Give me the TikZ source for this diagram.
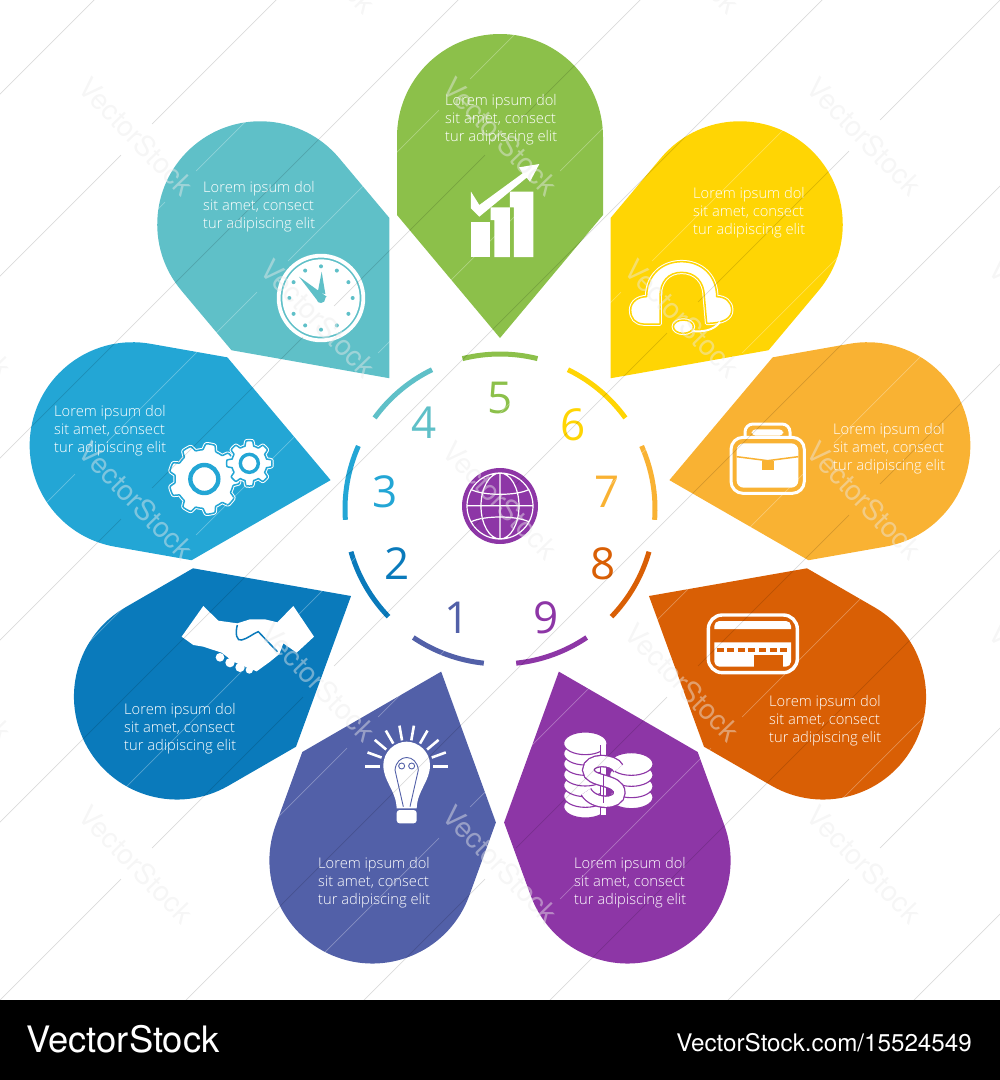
\documentclass[tikz,border=0pt]{standalone}
\usepackage{fontspec}
\setmainfont{Open Sans}
\newfontfamily\lightfont{Open Sans Light}
\newfontfamily\brandfont{TeX Gyre Heros}
\usetikzlibrary{positioning}

\definecolor{petalgreen}{HTML}{8CC04A}
\definecolor{petalyellow}{HTML}{FFD504}
\definecolor{petalorange}{HTML}{F9B233}
\definecolor{petalrust}{HTML}{D95F05}
\definecolor{petalpurple}{HTML}{8D36A6}
\definecolor{petalindigo}{HTML}{5260A8}
\definecolor{petalnavy}{HTML}{0A7ABB}
\definecolor{petalblue}{HTML}{23A6D5}
\definecolor{petalteal}{HTML}{5FC0C8}

\tikzset{
  blurb/.style={text=white,anchor=west,align=left,inner sep=0pt,font=\lightfont\fontsize{14.7}{18}\selectfont},
  numeral/.style={inner sep=0pt,font=\fontsize{44}{44}\selectfont},
  ringarc/.style={line width=5pt},
  halo/.style={fill=white,draw=white,line width=1pt,double=#1,double distance=1.5pt,line join=round},
  zoomed/.style 2 args={shift={(#1,#2)},scale=1/3},
  hairline/.style={line width=0.7pt},
  wmark/.style={text=black!8,text opacity=0.45,rotate=-46,inner sep=0pt,font=\brandfont\fontsize{28.3}{30}\selectfont},
}

% cx, cy, root radius, tip radius, teeth
\newcommand{\gearshape}[5]{plot[domain=0:358,samples=180,variable=\t]
  ({#1+(#3+(#4-#3)*max(0,min(1,0.5+1.3*cos(#5*\t))))*cos(\t)},
   {#2+(#3+(#4-#3)*max(0,min(1,0.5+1.3*cos(#5*\t))))*sin(\t)}) -- cycle}

\begin{document}
\begin{tikzpicture}[x=1pt,y=-1pt]
\useasboundingbox (0,0) rectangle (1000,1080);

% petals, ring pieces, numbers and texts
\foreach \ang/\col/\num/\nx/\ny/\bx/\by in {
  0/petalgreen/5/500/398/445/119.5,
  40/petalyellow/6/573/425/693/212.5,
  80/petalorange/7/607/492/833/448.5,
  120/petalrust/8/603/564/769/720.5,
  160/petalpurple/9/546/618/574/882.5,
  200/petalindigo/1/457/618/318/882.5,
  240/petalnavy/2/397/564/124/728.5,
  280/petalblue/3/385/492/54/430.5,
  320/petalteal/4/424/423/203/206.5} {
  \fill[\col,rotate around={-\ang:(500,510)}] (500,338) -- (397,215) -- (397,137)
    .. controls (397,80.1) and (443.1,34) .. (500,34)
    .. controls (556.9,34) and (603,80.1) .. (603,137) -- (603,215) -- cycle;
  \draw[\col,ringarc,rotate around={-\ang:(500,509)}] ([shift={(500,509)}]-104:155)
    arc[start angle=-104,end angle=-76,radius=155];
  \node[numeral,text=\col] (num-\num) at (\nx,\ny) {\num};
  \node[blurb] (blurb-\num) at (\bx,\by) {Lorem ipsum dol\\sit amet, consect\\tur adipiscing elit};
}

% globe
\begin{scope}[zoomed={340}{340}]
\fill[petalpurple] (480,498) circle (114);
\draw[white,line width=1.2pt] (480,498) circle (99) (480,399) -- (480,597) (381,497) -- (579,497)
  (480,498) ellipse [x radius=57,y radius=99]
  (392,448) .. controls (430,468) and (530,468) .. (568,448)
  (392,546) .. controls (430,526) and (530,526) .. (568,546);
\end{scope}

% chart
\begin{scope}[zoomed={150}{110}]
\fill[white] (963,335) rectangle (1020,441);
\fill[white] (1022,330) -- (1022,292) -- (1080,292) -- (1080,441) -- (1033,441) -- (1033,330) -- cycle;
\fill[white] (1080,292) -- (1080,245) -- (1150,245) -- (1150,441) -- (1092,441) -- (1092,292) -- cycle;
\fill[white] (963,245) -- (988,285) -- (1118,190) -- (1107,172) -- (1168,162) -- (1140,215) -- (1130,203) -- (988,320) -- (963,295) -- cycle;
\end{scope}

% clock
\begin{scope}[zoomed={150}{110}]
\draw[white,line width=3.8pt] (513,564) circle (127);
\fill[white] (513,564) circle (116);
\foreach \a in {0,30,...,330} \fill[petalteal] ([shift={(513,564)}]\a:95) circle (6);
\fill[petalteal] (447,500) -- (530,560) -- (507,578) -- cycle;
\fill[petalteal] (515,485) -- (503,548) -- (526,552) -- cycle;
\fill[petalteal] (513,566) circle (13);
\end{scope}

% headset
\begin{scope}[zoomed={625}{255}]
\path[halo=petalyellow] (105,207) -- (55,207) .. controls (30,205) and (17,190) .. (17,165)
  .. controls (17,140) and (40,125) .. (65,125)
  .. controls (65,60) and (112,20) .. (170,20) .. controls (228,20) and (275,60) .. (275,125)
  .. controls (300,125) and (320,140) .. (320,165) .. controls (320,190) and (295,205) .. (245,205)
  -- (238,125) .. controls (238,80) and (210,52) .. (170,52) .. controls (130,52) and (105,80) .. (105,125) -- cycle;
\draw[white,line width=2pt] (285,200) .. controls (270,225) and (230,235) .. (190,226);
\path[halo=petalyellow] (175,215) ellipse [x radius=30,y radius=20];
\end{scope}

% briefcase
\begin{scope}[zoomed={720}{415}]
\draw[white,line width=3pt,rounded corners=12pt] (33,67) rectangle (253,235);
\draw[white,line width=3pt,rounded corners=8pt] (75,67) -- (75,27) -- (210,27) -- (210,67);
\fill[white,rounded corners=4pt] (95,43) rectangle (190,62);
\fill[white,rounded corners=7pt] (50,85) rectangle (235,218);
\draw[petalorange,line width=1.5pt] (50,125) -- (143,137) -- (235,125);
\fill[petalorange] (125,137) rectangle (163,165);
\end{scope}

% card
\begin{scope}[zoomed={600}{240}]
\draw[white,line width=3.4pt,rounded corners=14pt] (325,1125) rectangle (592,1298);
\fill[white] (343,1167) [rounded corners=5pt] -- (343,1143) -- (573,1143) [sharp corners] -- (573,1167) -- cycle;
\fill[white] (343,1207) -- (573,1207) [rounded corners=5pt] -- (573,1280) -- (343,1280) [sharp corners] -- cycle;
\fill[petalrust] (463,1245) rectangle (550,1280);
\draw[petalrust,line width=4pt,dash pattern=on 7pt off 3.6pt] (350,1231) -- (570,1231);
\end{scope}

% coins
\begin{scope}[zoomed={350}{710}]
\foreach \y in {290,258,226,194,162,131,100}
  \path[fill=white,draw=petalpurple,line width=1.1pt] (706,\y) ellipse [x radius=65,y radius=34];
\foreach \y in {262,229,195,162}
  \path[fill=white,draw=petalpurple,line width=1.1pt] (844,\y) ellipse [x radius=65,y radius=34];
\draw[petalpurple,line width=1.2pt,double=white,double distance=5pt] (760,105) -- (760,315);
\draw[petalpurple,line width=1.3pt,double=white,double distance=10pt] (805,175) .. controls (790,145) and (715,145) .. (715,180)
  .. controls (715,218) and (808,205) .. (808,248) .. controls (808,285) and (730,285) .. (708,245);
\draw[petalpurple,line width=1pt] (760,195) -- (760,280);
\end{scope}

% bulb
\begin{scope}[zoomed={350}{710}]
\fill[white] (140,295) .. controls (138,240) and (100,215) .. (100,165) .. controls (100,125) and (135,95) .. (170,95)
  .. controls (205,95) and (240,125) .. (240,165) .. controls (240,215) and (202,240) .. (200,295) -- cycle;
\fill[white,rounded corners=3pt] (140,300) rectangle (200,340);
\foreach \a in {-180,-160,...,0}
  \draw[white,line width=2.6pt] ([shift={(170,170)}]\a:80) -- ([shift={(170,170)}]\a:125);
\draw[petalindigo,line width=0.9pt] (155,168) circle (9) (185,168) circle (9)
  (135,180) .. controls (140,130) and (200,130) .. (205,180) (135,180) -- (160,290) (205,180) -- (180,290);
\end{scope}

% handshake
\begin{scope}[zoomed={150}{430}]
\fill[white] (95,620) -- (160,528) -- (205,572) -- (262,580) -- (300,568) -- (345,568) -- (382,577) -- (430,528)
  -- (492,620) -- (440,668) -- (400,640) -- (388,672) -- (360,695) -- (320,724) -- (290,712) -- (250,695)
  -- (215,668) -- (160,650) -- (130,645) -- cycle;
\fill[white] (210,682) circle (13) (240,698) circle (14) (270,712) circle (14) (298,720) circle (11);
\draw[petalnavy,line width=1.5pt] (262,585) .. controls (255,610) and (260,635) .. (275,630)
  .. controls (295,625) and (310,610) .. (325,605) -- (382,665);
\end{scope}

% gears
\begin{scope}[zoomed={165}{435}]
\path[halo=petalblue] \gearshape{118}{132}{88}{106}{9};
\draw[petalblue,line width=4.4pt] (118,132) circle (42);
\path[halo=petalblue] \gearshape{253}{85}{53}{68}{8};
\draw[petalblue,line width=3.4pt] (253,85) circle (27);
\end{scope}

% watermark lines and text
\begin{scope}
\clip (0,0) rectangle (1000,1000);
\foreach \s in {94,458,822,1186,1550,1914}
  \draw[black,opacity=0.14,hairline] (-30,\s+30) -- (1030,\s-1030);
\foreach \s in {276,640,1000,1364,1728}
  \draw[black,opacity=0.14,hairline,dash pattern=on 213.4pt off 44pt] (-30,\s+30) -- (1030,\s-1030);
\foreach \s/\xo in {185/-76,367/-168,549/-76,731/-168,913/-76,1095/-168,1277/-76,1459/-168,1641/-76,1823/-168}
  \draw[white,opacity=0.3,hairline,dash pattern=on 213.4pt off 44pt] (\xo,\s-\xo) -- (1060,\s-1060);
\foreach \wx in {136,500,864} \foreach \wy in {136,500,864}
  \node[wmark] (wm-\wx-\wy) at (\wx,\wy) {VectorStock};
\foreach \wx/\wy in {318/-46,682/-46,-46/318,318/318,682/318,1046/318,-46/682,318/682,682/682,1046/682}
  \node[wmark] (wm-\wx-\wy) at (\wx,\wy) {VectorStock};
\end{scope}

% footer
\fill[black] (0,1000) rectangle (1000,1080);
\node[text=white,anchor=west,inner sep=0pt,font=\brandfont\fontsize{36.4}{37}\selectfont] (brand) at (26,1039) {VectorStock};
\node[text=white,anchor=east,inner sep=0pt,font=\brandfont\fontsize{24.2}{25}\selectfont] (brandurl) at (972,1043) {VectorStock.com/15524549};
\end{tikzpicture}
\end{document}
